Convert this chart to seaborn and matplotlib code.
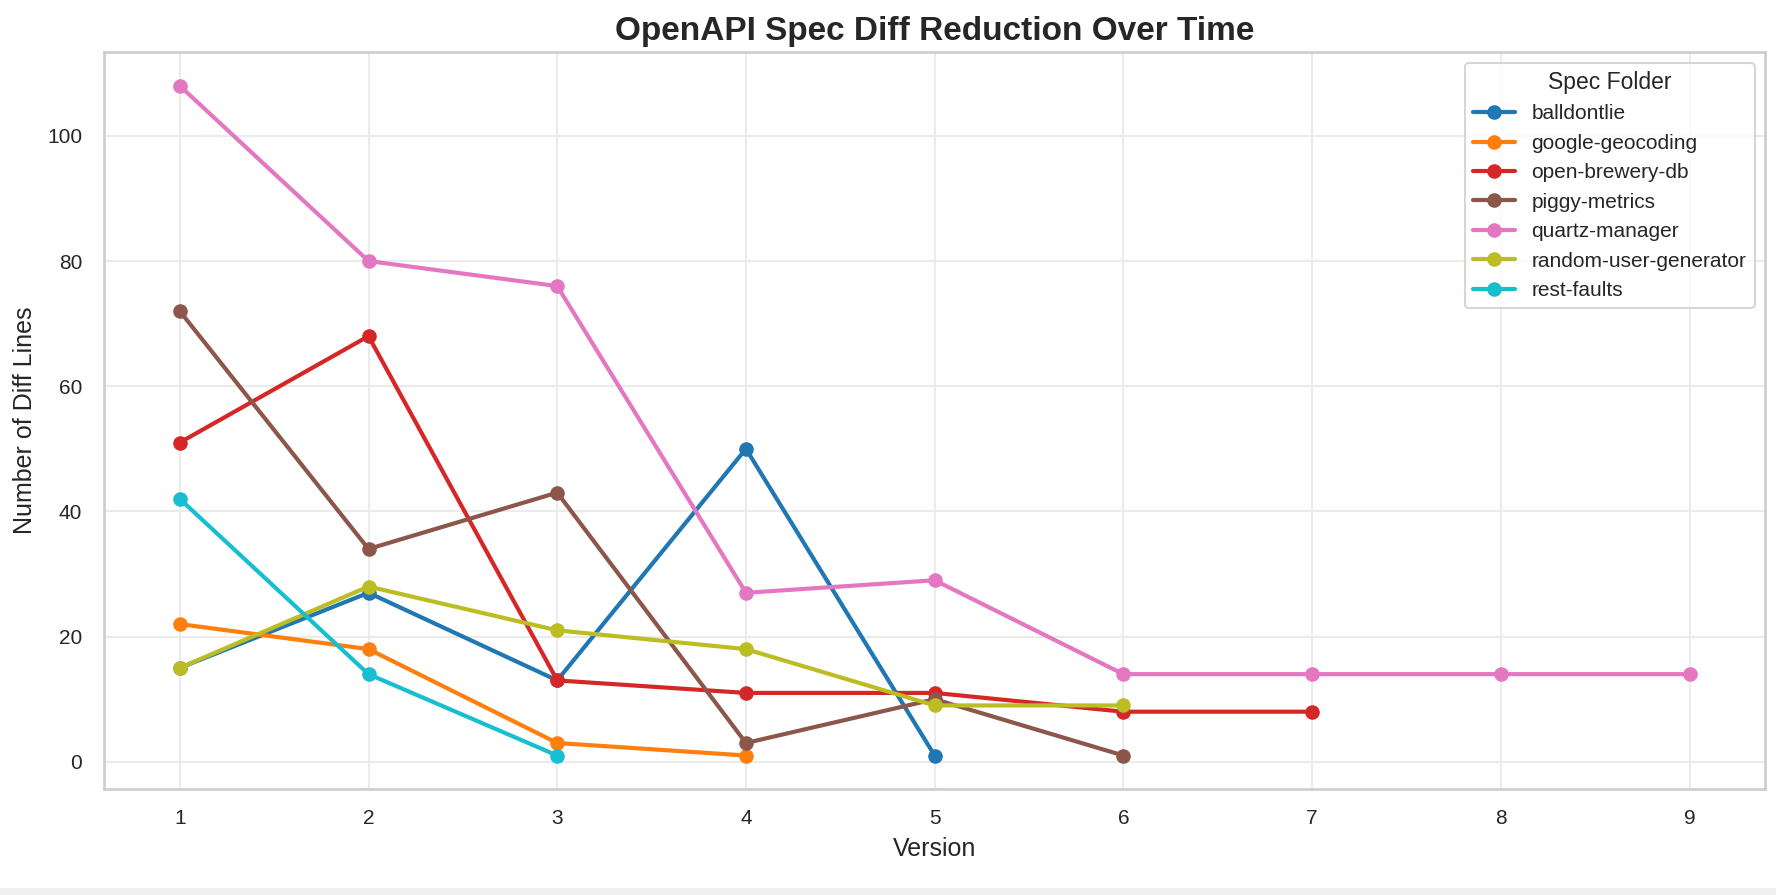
import numpy as np
import pandas as pd
import matplotlib
matplotlib.use("Agg")
import matplotlib.pyplot as plt
import seaborn as sns
from matplotlib.patches import Rectangle

# ---- data ----
folders = ["balldontlie", "google-geocoding", "open-brewery-db", "piggy-metrics",
           "quartz-manager", "random-user-generator", "rest-faults"]
balldontlie = [15, 27, 13, 50, 1]
google_geocoding = [22, 18, 3, 1]
open_brewery_db = [51, 68, 13, 11, 11, 8, 8]
piggy_metrics = [72, 34, 43, 3, 10, 1]
quartz_manager = [108, 80, 76, 27, 29, 14, 14, 14, 14]
random_user_generator = [15, 28, 21, 18, 9, 9]
rest_faults = [42, 14, 1]
series = [balldontlie, google_geocoding, open_brewery_db, piggy_metrics,
          quartz_manager, random_user_generator, rest_faults]
version_ticks = list(range(1, 10))
colors = ["#1f77b4", "#ff7f0e", "#d62728", "#8c564b", "#e377c2", "#bcbd22", "#17becf"]

rows = []
for name, vals in zip(folders, series):
    for i, v in enumerate(vals):
        rows.append({"Version": i + 1, "Diff Lines": v, "Spec Folder": name})
df = pd.DataFrame(rows)

sns.set_theme(style="whitegrid")
plt.rcParams["font.family"] = ["Liberation Sans", "DejaVu Sans"]
plt.rcParams["axes.edgecolor"] = "#cccccc"
plt.rcParams["axes.linewidth"] = 1.25
plt.rcParams["grid.color"] = "#ebebeb"

W, H, DPI = 1777, 895, 150
fig = plt.figure(figsize=(W / DPI, H / DPI), dpi=DPI)
ax = fig.add_axes([104.3 / W, 1 - 789 / H, (1765 - 104.3) / W, (789 - 52.3) / H])

sns.lineplot(data=df, x="Version", y="Diff Lines", hue="Spec Folder",
             hue_order=folders, palette=colors, marker="o", markersize=7,
             markeredgewidth=0, linewidth=2, ax=ax, legend=True)

ax.set_xticks(version_ticks)
ax.tick_params(axis="x", labelsize=10, colors="#262626", pad=3.8)
ax.tick_params(axis="y", labelsize=10, colors="#262626", pad=4.6)
ax.set_title("OpenAPI Spec Diff Reduction Over Time", fontsize=16, fontweight="bold",
             color="#262626")
ax.set_xlabel("Version", fontsize=12, color="#262626")
ax.set_ylabel("Number of Diff Lines", fontsize=12, color="#262626", labelpad=5)

handles, labels = ax.get_legend_handles_labels()
leg = ax.legend(handles, labels, title="Spec Folder", loc="upper right",
                fontsize=10, title_fontsize=11, frameon=True)
leg.get_frame().set_edgecolor("#cccccc")

fig.patches.append(Rectangle((0, 0), 1, 7 / H, transform=fig.transFigure,
                             facecolor="#f0f0f0", edgecolor="none", zorder=-1))

fig.savefig("out.png", dpi=DPI)
